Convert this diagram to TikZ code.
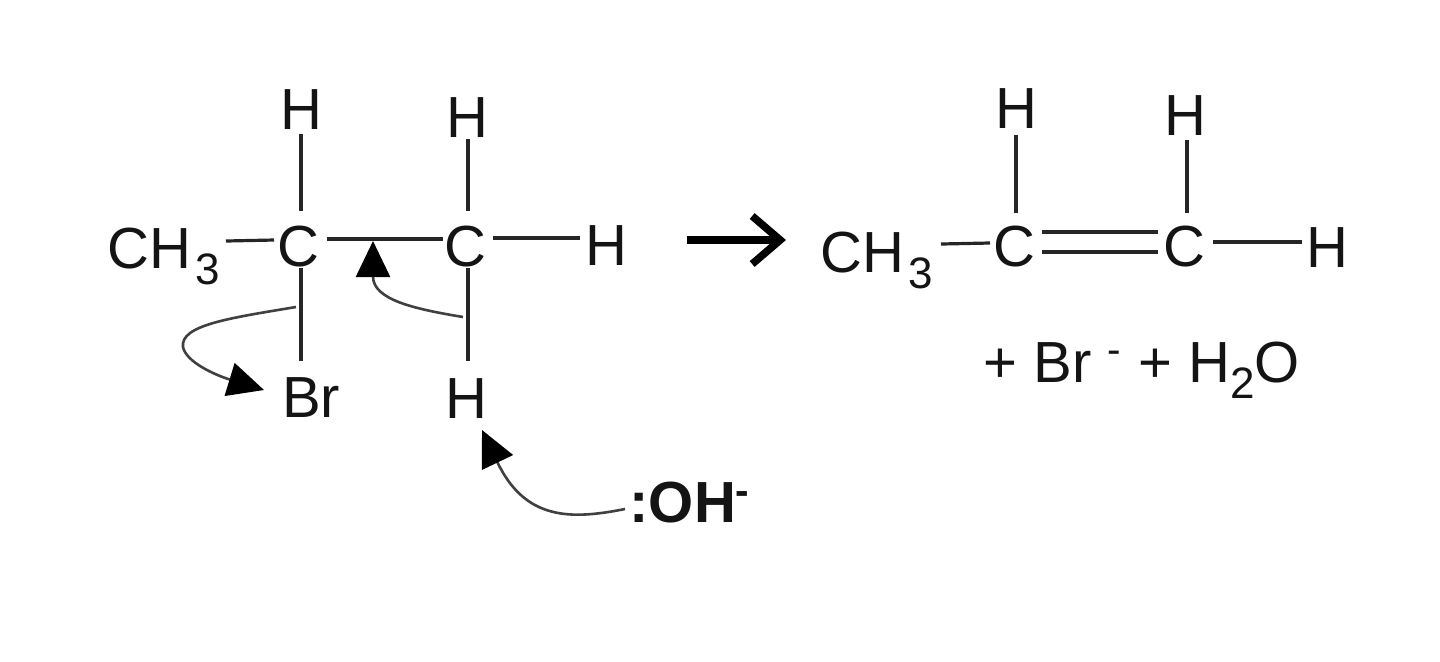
\documentclass[tikz,border=0pt]{standalone}
\usepackage{fontspec}
\setmainfont{Liberation Sans}
\usetikzlibrary{arrows.meta}
\newcommand{\lowdigit}[1]{\raisebox{-8pt}{\fontsize{22}{23}\selectfont #1}}
\tikzset{
  atom/.style={inner sep=0pt,font=\fontsize{29}{30}\selectfont,text=black!92},
  bondline/.style={line width=1.6pt,black!85},
  curly/.style={line width=1.3pt,black!75,-{Triangle[length=18pt,width=17pt,black]}},
  bigarrow/.style={line width=3.8pt,black,-{Straight Barb[length=14pt,width=24pt,line width=3.8pt]}}
}
\begin{document}
\begin{tikzpicture}[x=0.5pt,y=-0.5pt]
\useasboundingbox (0,0) rectangle (1440,661);
\fill[white] (0,0) rectangle (1440,661);
% left molecule
\node[atom] (h1) at (301,110) {H};
\node[atom] (h2) at (467,118) {H};
\node[atom,anchor=base west] (ch3a) at (107,268) {CH\kern2pt\lowdigit{3}};
\node[atom] (c1) at (298,247) {C};
\node[atom] (c2) at (465,247) {C};
\node[atom] (h3) at (606,246) {H};
\node[atom] (br) at (311,398) {Br};
\node[atom] (h4) at (466,399) {H};
\node[atom,font=\fontsize{29}{30}\selectfont\bfseries] (oh) at (690,503) {:OH\textsuperscript{-}};
\coordinate (b1a) at (301,134); \coordinate (b1b) at (301,211);
\draw[bondline] (b1a) -- (b1b);
\coordinate (b2a) at (468,139); \coordinate (b2b) at (468,211);
\draw[bondline] (b2a) -- (b2b);
\coordinate (b3a) at (226,241); \coordinate (b3b) at (274,240);
\draw[bondline] (b3a) -- (b3b);
\coordinate (b4a) at (327,239); \coordinate (b4b) at (443,239);
\draw[bondline] (b4a) -- (b4b);
\coordinate (b5a) at (493,238); \coordinate (b5b) at (580,238);
\draw[bondline] (b5a) -- (b5b);
\coordinate (b6a) at (301,268); \coordinate (b6b) at (301,361);
\draw[bondline] (b6a) -- (b6b);
\coordinate (b7a) at (468,268); \coordinate (b7b) at (468,361);
\draw[bondline] (b7a) -- (b7b);
% curly arrows
\coordinate (ca1) at (296,307); \coordinate (ca2) at (264,390);
\draw[curly] (ca1) .. controls (230,318) and (180,325) .. (183,347) .. controls (186,362) and (215,375) .. (ca2);
\coordinate (cb1) at (463,317); \coordinate (cb2) at (373,241);
\draw[curly] (cb1) .. controls (415,309) and (373,300) .. (cb2);
\coordinate (cc1) at (625,509); \coordinate (cc2) at (482,430);
\draw[curly] (cc1) .. controls (570,520) and (525,520) .. (cc2);
% reaction arrow
\coordinate (ra) at (687,240); \coordinate (rb) at (786,240);
\draw[bigarrow] (ra) -- (rb);
% right molecule
\node[atom] (rh1) at (1016,109) {H};
\node[atom] (rh2) at (1185,116) {H};
\node[atom,anchor=base west] (ch3b) at (820,272) {CH\kern2pt\lowdigit{3}};
\node[atom] (rc1) at (1014,247) {C};
\node[atom] (rc2) at (1184,247) {C};
\node[atom] (rh3) at (1327,248) {H};
\coordinate (r1a) at (1016,135); \coordinate (r1b) at (1016,213);
\draw[bondline] (r1a) -- (r1b);
\coordinate (r2a) at (1187,140); \coordinate (r2b) at (1187,213);
\draw[bondline] (r2a) -- (r2b);
\coordinate (r3a) at (941,244); \coordinate (r3b) at (990,243);
\draw[bondline] (r3a) -- (r3b);
\coordinate (r4a) at (1042,232); \coordinate (r4b) at (1158,232);
\draw[bondline] (r4a) -- (r4b);
\coordinate (r5a) at (1042,252); \coordinate (r5b) at (1158,252);
\draw[bondline] (r5a) -- (r5b);
\coordinate (r6a) at (1213,242); \coordinate (r6b) at (1302,242);
\draw[bondline] (r6a) -- (r6b);
\node[atom,anchor=base west] (prod) at (983,382) {+ Br \textsuperscript{-} + H\lowdigit{2}O};
\end{tikzpicture}
\end{document}
